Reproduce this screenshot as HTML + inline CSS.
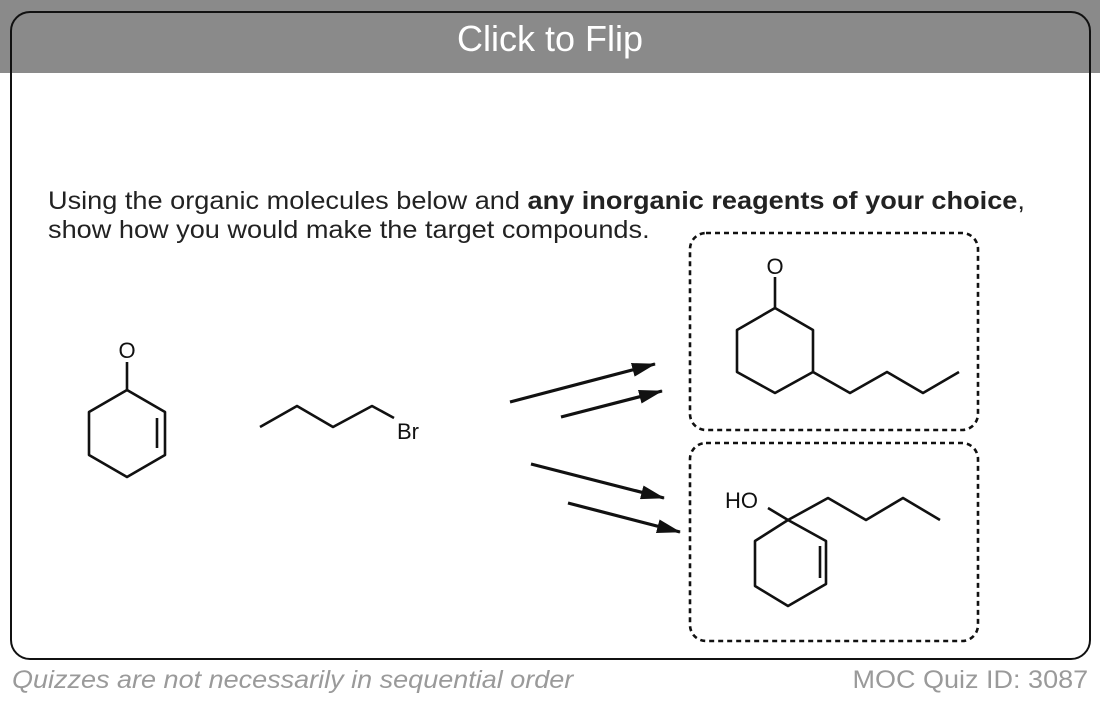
<!DOCTYPE html>
<html><head><style>
body{margin:0;width:1100px;height:704px;background:#fff;position:relative;overflow:hidden;font-family:"Liberation Sans",sans-serif}
.hdr{position:absolute;left:0;top:0;width:1100px;height:73px;background:#8a8a8a}
.card{position:absolute;left:10px;top:11px;width:1077px;height:645px;border:2px solid #111;border-radius:20px;box-sizing:content-box}
.title{position:absolute;left:0;width:1100px;top:18px;text-align:center;color:#fff;font-size:36px}
.q{position:absolute;left:48px;top:187px;font-size:25px;line-height:29px;color:#222;transform:scaleX(1.085);transform-origin:0 0;white-space:nowrap}
.foot{position:absolute;top:666px;font-size:25px;color:#9a9a9a;white-space:nowrap}
</style></head><body>
<div class="hdr"></div>
<div class="card"></div>
<div class="title">Click to Flip</div>
<div class="q">Using the organic molecules below and <b>any inorganic reagents of your choice</b>,<br>show how you would make the target compounds.</div>
<div class="foot" style="left:12px;font-style:italic;transform:scaleX(1.08);transform-origin:0 0">Quizzes are not necessarily in sequential order</div>
<div class="foot" style="right:12px;transform:scaleX(1.08);transform-origin:100% 0">MOC Quiz ID: 3087</div>
<svg width="1100" height="704" style="position:absolute;left:0;top:0" font-family="Liberation Sans,sans-serif">
<defs><marker id="a" markerWidth="24" markerHeight="14" refX="23" refY="7" orient="auto" markerUnits="userSpaceOnUse" viewBox="0 0 24 14"><path d="M0,0L24,7L0,14z" fill="#111"/></marker></defs>
<g fill="none" stroke="#111" stroke-width="2.6" stroke-dasharray="5,4">
<rect x="690" y="233" width="288" height="197" rx="16"/>
<rect x="690" y="443" width="288" height="198" rx="16"/>
</g>
<g fill="none" stroke="#111" stroke-width="2.6" stroke-linejoin="round">
<polygon points="127,390 165,412 165,455 127,477 89,455 89,412"/>
<line x1="157" y1="418" x2="157" y2="448"/>
<line x1="127" y1="390" x2="127" y2="362"/>
<polyline points="260,427 297,406 333,427 372,406 394,418"/>
<g stroke-width="3.2">
<line x1="510" y1="402" x2="655" y2="364" marker-end="url(#a)"/>
<line x1="561" y1="417" x2="662" y2="391" marker-end="url(#a)"/>
<line x1="531" y1="464" x2="664" y2="498" marker-end="url(#a)"/>
<line x1="568" y1="503" x2="680" y2="532" marker-end="url(#a)"/>
</g>
<polygon points="775,308 813,330 813,372 775,393 737,372 737,330"/>
<line x1="775" y1="308" x2="775" y2="277"/>
<polyline points="813,372 850,393 887,372 923,393 959,372"/>
<polygon points="788,520 826,541 826,584 788,606 755,586 755,541"/>
<line x1="820" y1="546" x2="820" y2="578"/>
<polyline points="788,520 828,498 866,520 903,498 940,520"/>
<line x1="788" y1="520" x2="768" y2="508"/>
</g>
<g fill="#111" font-size="22">
<text x="127" y="358" text-anchor="middle">O</text>
<text x="775" y="274" text-anchor="middle">O</text>
<text x="397" y="439">Br</text>
<text x="725" y="508">HO</text>
</g>
</svg>
</body></html>
